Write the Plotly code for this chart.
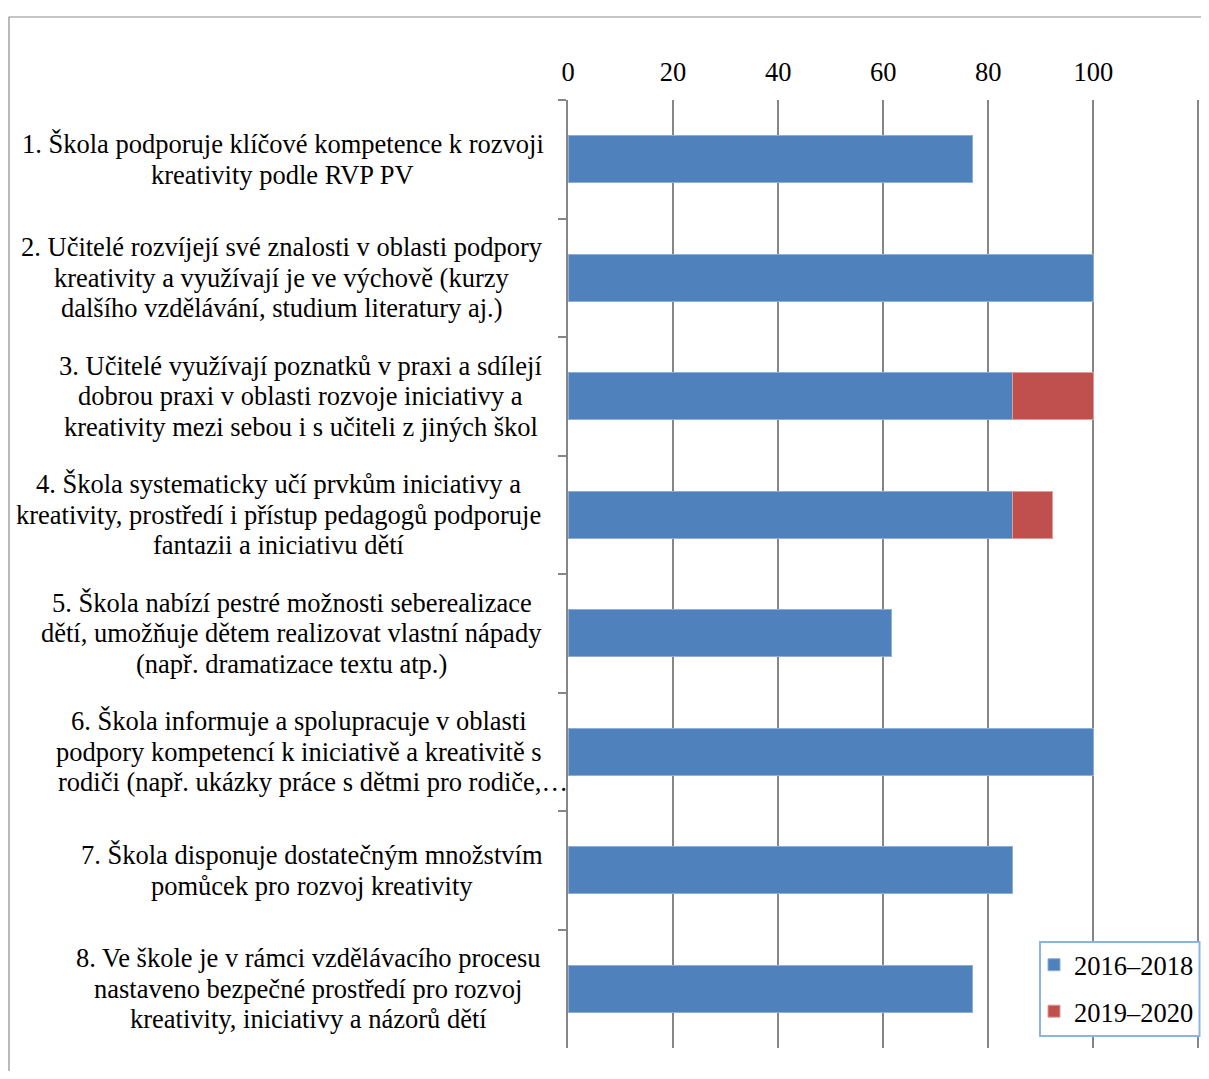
import plotly.graph_objects as go

categories = [
    ["1. Škola podporuje klíčové kompetence k rozvoji", "kreativity podle RVP PV"],
    ["2. Učitelé rozvíjejí své znalosti v oblasti podpory", "kreativity a využívají je ve výchově (kurzy",
     "dalšího vzdělávání, studium literatury aj.)"],
    ["3. Učitelé využívají poznatků v praxi a sdílejí", "dobrou praxi v oblasti rozvoje iniciativy a",
     "kreativity mezi sebou i s učiteli z jiných škol"],
    ["4. Škola systematicky učí prvkům iniciativy a", "kreativity, prostředí i přístup pedagogů podporuje",
     "fantazii a iniciativu dětí"],
    ["5. Škola nabízí pestré možnosti seberealizace", "dětí, umožňuje dětem realizovat vlastní nápady",
     "(např. dramatizace textu atp.)"],
    ["6. Škola informuje a spolupracuje v oblasti", "podpory kompetencí k iniciativě a kreativitě s",
     "rodiči (např. ukázky práce s dětmi pro rodiče,…"],
    ["7. Škola disponuje dostatečným množstvím", "pomůcek pro rozvoj kreativity"],
    ["8. Ve škole je v rámci vzdělávacího procesu", "nastaveno bezpečné prostředí pro rozvoj",
     "kreativity, iniciativy a názorů dětí"],
]
series_2016_2018 = [76.9, 100, 84.6, 84.6, 61.5, 100, 84.6, 76.9]
series_2019_2020 = [0, 0, 15.4, 7.7, 0, 0, 0, 0]
tick_values = [0, 20, 40, 60, 80, 100, 120]
tick_labels = ["0", "20", "40", "60", "80", "100", ""]

keys = [f"c{i}" for i in range(len(categories))]

FONT = "Liberation Serif, Times New Roman, serif"
FS = 26.5
BLUE = "#4F81BD"
RED = "#C0504D"
GRID = "#868686"

# page offset (body margin 8px) compensation; keep figure inside viewport
OX, OY = 8, 8
W, H = 1209 - 2 * OX, 1079 - 2 * OY
XMAX = 120.3
PW = round(630 * XMAX / 120)
L, T, PH = 568 - OX, 100 - OY, 948

# horizontal centre (screen px) of each label block's lines
line_centres = [
    [282.5, 282.5],
    [281.5, 281.5, 281.5],
    [300.5, 300.5, 300.5],
    [278.5, 278.5, 278.5],
    [291.5, 291.5, 291.5],
    [299, 299, 312.5],
    [311.5, 311.5],
    [308, 308, 308],
]
LINE_GAP = 30.5

def nz(vals):
    return [v if v else None for v in vals]

fig = go.Figure()
fig.add_trace(go.Bar(
    y=keys, x=nz(series_2016_2018), orientation="h", name="2016–2018",
    legendgroup="a",
    marker=dict(color=BLUE, line=dict(color="#8FAFD8", width=1)),
))
fig.add_trace(go.Bar(
    y=keys, x=nz(series_2019_2020), orientation="h", name="2019–2020",
    legendgroup="b",
    marker=dict(color=RED, line=dict(color="#E09A98", width=1)),
))

def px_x(px):
    return (px - 568) / PW

def px_y(py):
    return (1048 - py) / PH

for k, lines, centres in zip(keys, categories, line_centres):
    n = len(lines)
    for i, (txt, cx) in enumerate(zip(lines, centres)):
        off = ((n - 1) / 2 - i) * LINE_GAP
        fig.add_annotation(
            x=px_x(cx), xref="paper", y=k, yref="y", yshift=off,
            text=txt, showarrow=False, xanchor="center", yanchor="middle",
            font=dict(family=FONT, size=FS, color="black"),
        )

# chart border (clipped by window on right and bottom)
fig.add_shape(type="rect", xref="paper", yref="paper",
              x0=px_x(9), x1=px_x(1260),
              y0=px_y(1120), y1=px_y(17),
              line=dict(color="#8C8C8C", width=1.2), fillcolor="rgba(0,0,0,0)",
              layer="below")
# legend frame
fig.add_shape(type="rect", xref="paper", yref="paper",
              x0=px_x(1040), x1=px_x(1199.5),
              y0=px_y(1036), y1=px_y(942),
              line=dict(color="#8DB3E2", width=2), fillcolor="white",
              layer="above")

fig.update_layout(
    width=W, height=H,
    margin=dict(l=L, r=W - L - PW, t=T, b=H - T - PH),
    barmode="stack", bargap=0.6,
    plot_bgcolor="white", paper_bgcolor="white",
    font=dict(family=FONT, size=FS, color="black"),
    showlegend=True,
    legend=dict(
        x=px_x(1034), y=px_y(941), xanchor="left", yanchor="top",
        borderwidth=0, bgcolor="rgba(0,0,0,0)",
        font=dict(family=FONT, size=FS, color="black"),
        traceorder="grouped", tracegroupgap=9, itemwidth=30,
    ),
    xaxis=dict(
        side="top", range=[0, XMAX], tickvals=tick_values, ticktext=tick_labels,
        showgrid=True, gridcolor=GRID, gridwidth=1.5, zeroline=False,
        showline=False, ticks="outside", ticklen=7, tickcolor="rgba(0,0,0,0)",
        tickfont=dict(family=FONT, size=FS, color="black"),
    ),
    yaxis=dict(
        categoryorder="array", categoryarray=keys, autorange="reversed",
        showticklabels=False, ticks="outside", tickson="boundaries", ticklen=8,
        tickcolor=GRID, tickwidth=1.5, showline=True, linecolor=GRID, linewidth=1.5,
        showgrid=False,
    ),
)

fig.write_html("out.html")
